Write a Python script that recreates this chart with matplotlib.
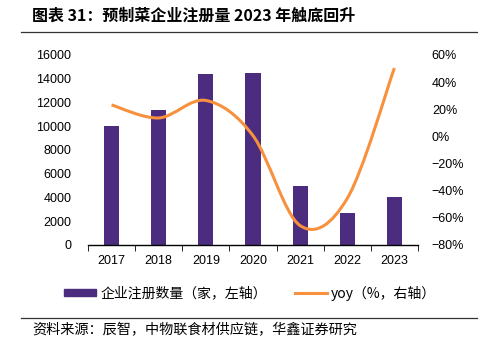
import matplotlib
matplotlib.use('Agg')
import matplotlib.pyplot as plt
from matplotlib.path import Path
from matplotlib.patches import PathPatch
from matplotlib.lines import Line2D
from matplotlib.patches import Patch
from matplotlib.ticker import FuncFormatter

plt.rcParams['font.family'] = ['Liberation Sans', 'Noto Sans CJK SC', 'DejaVu Sans']

years = ['2017', '2018', '2019', '2020', '2021', '2022', '2023']
counts = [10020, 11380, 14400, 14480, 4970, 2700, 4060]
yoy = [23.2, 13.6, 26.5, 0.6, -65.7, -45.7, 50.4]

bar_color = '#4B2C7F'
line_color = '#F7913D'
cjk = ['Noto Sans CJK SC', 'DejaVu Sans']

fig = plt.figure(figsize=(4.86, 3.48), dpi=100)
ax = fig.add_axes([0.181, 0.296, 0.679, 0.546])
ax2 = ax.twinx()

x = list(range(len(years)))
ax.bar(x, counts, width=0.32, color=bar_color, zorder=2)
ax.set_ylim(0, 16000)
ax.set_yticks(range(0, 16001, 2000))
ax.set_xlim(-0.5, len(years) - 0.5)
ax.set_xticks(x)
ax.set_xticklabels(years)
ax.set_xticks([i + 0.5 for i in x[:-1]] + [-0.5, len(years) - 0.5], minor=True)
ax.tick_params(axis='x', which='major', length=0, labelsize=9, pad=7)
ax.tick_params(axis='x', which='minor', length=4, direction='out', color='black')
ax.tick_params(axis='y', length=0, labelsize=9, pad=12)

# smoothed yoy line (Catmull-Rom as cubic Bezier)
pts = list(zip(x, yoy))
verts = [pts[0]]
codes = [Path.MOVETO]
for i in range(len(pts) - 1):
    p0 = pts[i - 1] if i > 0 else pts[i]
    p1 = pts[i]
    p2 = pts[i + 1]
    p3 = pts[i + 2] if i + 2 < len(pts) else pts[i + 1]
    c1 = (p1[0] + (p2[0] - p0[0]) / 6, p1[1] + (p2[1] - p0[1]) / 6)
    c2 = (p2[0] - (p3[0] - p1[0]) / 6, p2[1] - (p3[1] - p1[1]) / 6)
    verts += [c1, c2, p2]
    codes += [Path.CURVE4] * 3
ax2.add_patch(PathPatch(Path(verts, codes), facecolor='none',
                        edgecolor=line_color, lw=2.2, zorder=3))
ax2.set_ylim(-80, 60)
ax2.set_yticks(range(-80, 61, 20))
ax2.yaxis.set_major_formatter(FuncFormatter(lambda v, p: f'{int(v)}%'.replace('-', '\u2212')))
ax2.tick_params(axis='y', length=0, labelsize=9, pad=10)

for a in (ax, ax2):
    for s in ('top', 'left', 'right'):
        a.spines[s].set_visible(False)
ax.spines['bottom'].set_color('black')
ax.spines['bottom'].set_linewidth(1.0)
ax2.spines['bottom'].set_visible(False)

# title and rules
fig.text(0.066, 0.955, '图表 31：预制菜企业注册量 2023 年触底回升', fontsize=11.5,
         fontweight='bold', va='center', ha='left', family=cjk)
fig.add_artist(Line2D([0.043, 0.982], [0.908, 0.908], color='#333333', lw=0.9))
fig.add_artist(Line2D([0.043, 0.982], [0.085, 0.085], color='#333333', lw=0.9))
fig.text(0.066, 0.05, '资料来源：辰智，中物联食材供应链，华鑫证券研究', fontsize=10.2,
         va='center', ha='left', family=cjk)

handles = [Patch(color=bar_color), Line2D([], [], color=line_color, lw=2.2)]
labels = ['企业注册数量（家，左轴）', 'yoy（%，右轴）']
fig.legend(handles, labels, loc='center', bbox_to_anchor=(0.515, 0.158), ncol=2,
           frameon=False, handlelength=2.3, handleheight=0.45,
           columnspacing=2.0, handletextpad=0.3,
           prop={'family': cjk, 'size': 10})

fig.savefig('out.png', dpi=100)
